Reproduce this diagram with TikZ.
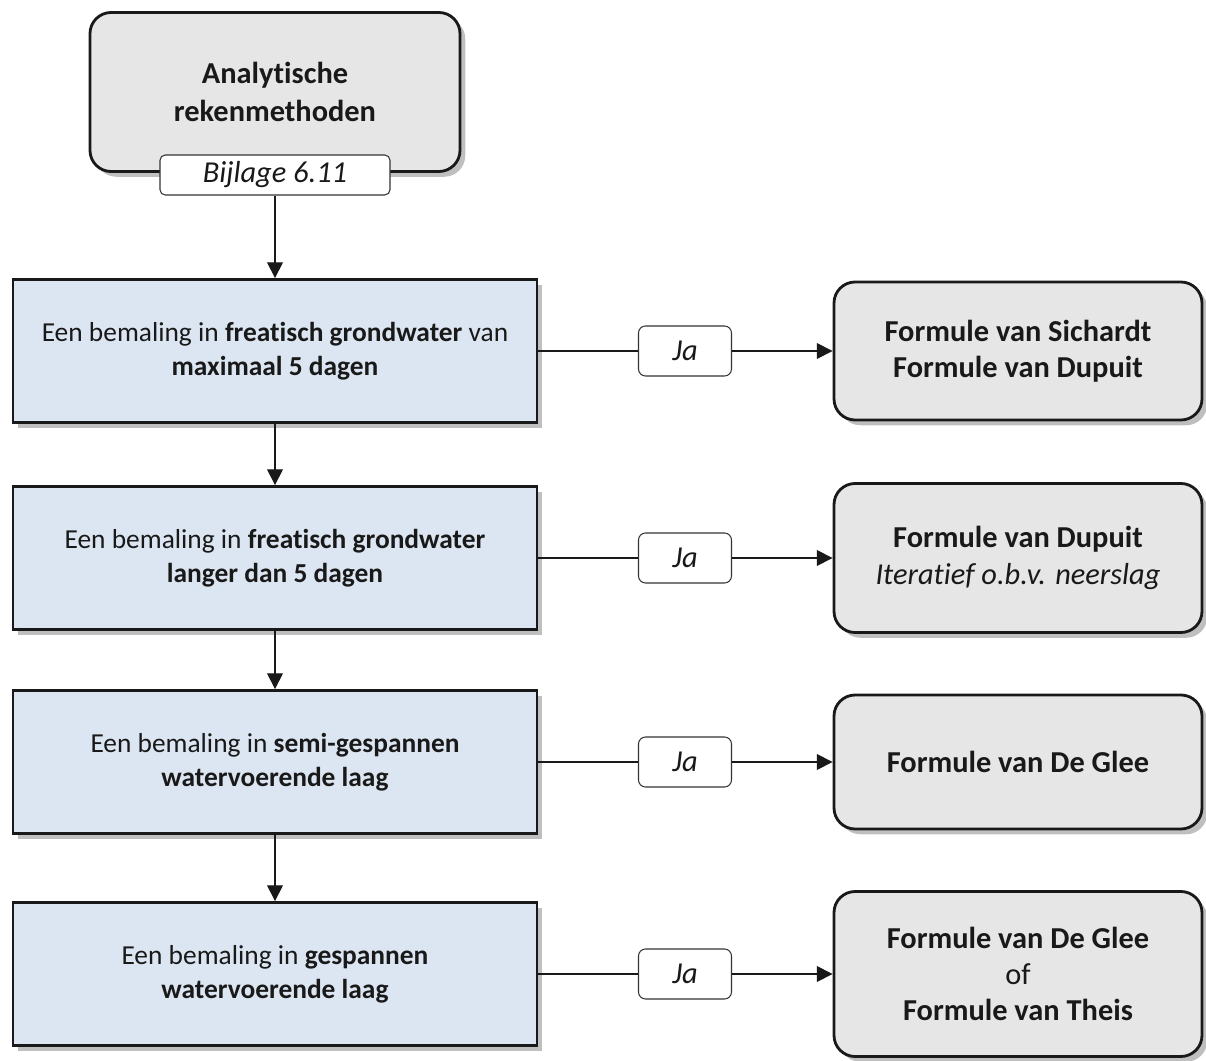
\documentclass[tikz,border=0pt]{standalone}
\usepackage{fontspec}
\setmainfont{Carlito}[Ligatures=NoCommon]
\usetikzlibrary{arrows.meta, shadows}
\definecolor{boxgray}{HTML}{E6E6E6}
\definecolor{boxblue}{HTML}{DCE6F2}
\definecolor{shadegray}{HTML}{808080}

\begin{document}
\begin{tikzpicture}[
  every node/.style={font=\fontsize{17.3}{20.6}\selectfont, text=black!90},
  topnode/.style={rectangle, rounded corners=12pt, draw=black!90, line width=1.6pt, fill=boxgray, minimum width=7.4cm, minimum height=3.18cm, align=center, font=\fontsize{17.3}{21.2}\selectfont\bfseries, drop shadow={shadow xshift=3pt, shadow yshift=-3pt, fill=shadegray, opacity=0.5}},
  refnode/.style={rectangle, rounded corners=3pt, draw=black!80, line width=0.6pt, fill=white, minimum width=4.6cm, minimum height=0.8cm, font=\fontsize{17.3}{20.6}\selectfont\itshape},
  condnode/.style={rectangle, draw=black!90, line width=1.6pt, fill=boxblue, minimum width=10.48cm, minimum height=2.86cm, align=center, font=\fontsize{15.6}{19.3}\selectfont, drop shadow={shadow xshift=3pt, shadow yshift=-3pt, fill=shadegray, opacity=0.5}},
  janode/.style={rectangle, rounded corners=4pt, draw=black!80, line width=0.6pt, fill=white, minimum width=1.86cm, minimum height=1.0cm, font=\fontsize{17.3}{20.6}\selectfont\itshape},
  resnode/.style={rectangle, rounded corners=12pt, draw=black!90, line width=1.6pt, fill=boxgray, minimum width=7.36cm, align=center, font=\fontsize{17.3}{20.6}\selectfont\bfseries, drop shadow={shadow xshift=3pt, shadow yshift=-3pt, fill=shadegray, opacity=0.5}},
  link/.style={line width=0.7pt, draw=black!90},
  arrowlink/.style={link, -{Triangle[length=9pt, width=9pt]}},
]
\useasboundingbox (0,0) rectangle (24.12,-21.22);

% start
\node[topnode] (top) at (5.5,-1.84) {Analytische\\rekenmethoden};
\node[refnode] (bij) at (5.5,-3.5) {Bijlage 6.11};

% conditions
\node[condnode] (b1) at (5.5,-7.02) {Een bemaling in \textbf{freatisch grondwater} van\\\textbf{maximaal 5 dagen}};
\node[condnode] (b2) at (5.5,-11.16) {Een bemaling in \textbf{freatisch grondwater}\\\textbf{langer dan 5 dagen}};
\node[condnode] (b3) at (5.5,-15.24) {Een bemaling in \textbf{semi-gespannen}\\\textbf{watervoerende laag}};
\node[condnode] (b4) at (5.5,-19.48) {Een bemaling in \textbf{gespannen}\\\textbf{watervoerende laag}};

% answers
\node[janode] (j1) at (13.7,-7.02) {Ja};
\node[janode] (j2) at (13.7,-11.16) {Ja};
\node[janode] (j3) at (13.7,-15.24) {Ja};
\node[janode] (j4) at (13.7,-19.48) {Ja};

% results
\node[resnode, minimum height=2.76cm] (r1) at (20.36,-7.02) {Formule van Sichardt\\Formule van Dupuit};
\node[resnode, minimum height=2.98cm] (r2) at (20.36,-11.16) {Formule van Dupuit\\\mdseries\itshape Iteratief o.b.v. neerslag};
\node[resnode, minimum height=2.68cm] (r3) at (20.36,-15.24) {Formule van De Glee};
\node[resnode, minimum height=3.3cm] (r4) at (20.36,-19.48) {Formule van De Glee\\\mdseries of\\Formule van Theis};

\draw[arrowlink] (bij) -- (b1);
\draw[arrowlink] (b1) -- (b2);
\draw[arrowlink] (b2) -- (b3);
\draw[arrowlink] (b3) -- (b4);
\draw[link] (b1) -- (j1);\draw[arrowlink] (j1) -- (r1);
\draw[link] (b2) -- (j2);\draw[arrowlink] (j2) -- (r2);
\draw[link] (b3) -- (j3);\draw[arrowlink] (j3) -- (r3);
\draw[link] (b4) -- (j4);\draw[arrowlink] (j4) -- (r4);
\end{tikzpicture}
\end{document}
